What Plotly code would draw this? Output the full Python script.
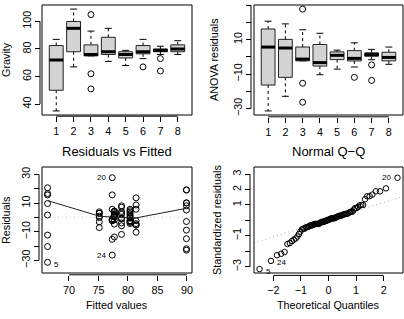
import math
from statistics import NormalDist
import numpy as np
import plotly.graph_objects as go

W, H = 404, 319
FONT = "Liberation Sans"

# ---------------- data (gravity: 8 series) ----------------
series_names = ["1", "2", "3", "4", "5", "6", "7", "8"]
g1 = [76, 82, 83, 54, 35, 46, 87, 68]
g2 = [87, 95, 98, 100, 109, 109, 100, 81, 75, 68, 67]
g3 = [105, 83, 76, 75, 51, 76, 93, 75, 62]
g4 = [95, 90, 76, 76, 87, 79, 77, 71]
g5 = [76, 78, 79, 72, 68, 75, 78]
g6 = [78, 78, 78, 86, 87, 81, 73, 67, 75, 82, 83]
g7 = [82, 79, 81, 78, 78, 79, 79, 80, 79, 82, 76, 73, 64]
g8 = [84, 86, 85, 82, 77, 76, 77, 80, 83, 81, 78, 78, 78, 80]
groups = [g1, g2, g3, g4, g5, g6, g7, g8]

# lowess smoother (at sorted group means)
smooth_y = [11.7, 0.8, 0.2, 0.0, -0.2, -0.3, -0.4, 6.3]

# labelled observations (1-based)
lab_ids = [20, 24, 5]

# tick labels
tl_y_ticks = [40, 60, 80, 100]
res_ticks = [-30, -20, -10, 0, 10, 20, 30]
res_ticktext = ["\u221230", "", "\u221210", "", "10", "", "30"]
fit_ticks = [70, 75, 80, 85, 90]
qq_x_ticks = [-2, -1, 0, 1, 2]
qq_x_text = ["\u22122", "\u22121", "0", "1", "2"]
qq_y_ticks = [-3, -2, -1, 0, 1, 2, 3]
qq_y_text = ["\u22123", "", "\u22121", "", "1", "2", "3"]

# ---------------- derived quantities ----------------
g_all = np.concatenate([np.array(g, float) for g in groups])
grp = np.concatenate([[i] * len(g) for i, g in enumerate(groups)])
means = np.array([np.mean(g) for g in groups])
fitted = means[grp]
resid = g_all - fitted
n, p = len(g_all), len(groups)
s = math.sqrt(np.sum(resid ** 2) / (n - p))
h = np.array([1.0 / len(groups[k]) for k in grp])
rstd = resid / (s * np.sqrt(1 - h))
pp = (np.arange(1, n + 1) - 0.5) / n
qn = np.array([NormalDist().inv_cdf(v) for v in pp])
order = np.argsort(rstd, kind="stable")
theo = np.empty(n)
theo[order] = qn


def fivenum(x):
    x = sorted(x)
    m = len(x)
    n4 = math.floor((m + 3) / 2) / 2
    d = [1, n4, (m + 1) / 2, m + 1 - n4, m]
    return [0.5 * (x[math.floor(v) - 1] + x[math.ceil(v) - 1]) for v in d]


def bstats(x):
    f = fivenum(x)
    iqr = f[3] - f[1]
    lo_f, hi_f = f[1] - 1.5 * iqr, f[3] + 1.5 * iqr
    inside = [v for v in x if lo_f <= v <= hi_f]
    out = [v for v in x if v < lo_f or v > hi_f]
    return min(inside), f[1], f[2], f[3], max(inside), out


def ext(a, b, f=0.04):
    d = (b - a) * f
    return [a - d, b + d]


def box_traces(data, xa, ya):
    bx, by, mx, my, wx, wy, sx, sy, ox, oy = [], [], [], [], [], [], [], [], [], []
    for i, d in enumerate(data):
        c = i + 1
        lo, q1, med, q3, hi, out = bstats(d)
        bx += [c - 0.4, c + 0.4, c + 0.4, c - 0.4, c - 0.4, None]
        by += [q1, q1, q3, q3, q1, None]
        mx += [c - 0.4, c + 0.4, None]
        my += [med, med, None]
        wx += [c, c, None, c, c, None]
        wy += [q3, hi, None, q1, lo, None]
        sx += [c - 0.2, c + 0.2, None, c - 0.2, c + 0.2, None]
        sy += [hi, hi, None, lo, lo, None]
        ox += [c] * len(out)
        oy += out
    common = dict(xaxis=xa, yaxis=ya, showlegend=False, hoverinfo="skip")
    return [
        go.Scatter(x=wx, y=wy, mode="lines", line=dict(color="black", width=1, dash="3px,3px"), **common),
        go.Scatter(x=sx, y=sy, mode="lines", line=dict(color="black", width=1), **common),
        go.Scatter(x=bx, y=by, mode="lines", fill="toself", fillcolor="#d3d3d3",
                   line=dict(color="#222222", width=1), **common),
        go.Scatter(x=mx, y=my, mode="lines", line=dict(color="black", width=3), **common),
        go.Scatter(x=ox, y=oy, mode="markers",
                   marker=dict(symbol="circle-open", size=6, color="black", line=dict(width=1)), **common),
    ]


fig = go.Figure()
for t in box_traces(groups, "x", "y"):
    fig.add_trace(t)
res_groups = [list(np.array(g, float) - np.mean(g)) for g in groups]
for t in box_traces(res_groups, "x2", "y2"):
    fig.add_trace(t)

# residuals vs fitted
fit_range = ext(fitted.min(), fitted.max())
fig.add_trace(go.Scatter(x=fit_range, y=[0, 0], mode="lines", xaxis="x3", yaxis="y3",
                         line=dict(color="#c0c0c0", width=1, dash="1px,3px"), showlegend=False, hoverinfo="skip"))
fig.add_trace(go.Scatter(x=fitted, y=resid, mode="markers", xaxis="x3", yaxis="y3",
                         marker=dict(symbol="circle-open", size=6, color="black", line=dict(width=1)),
                         showlegend=False, hoverinfo="skip"))
fig.add_trace(go.Scatter(x=np.sort(means), y=smooth_y, mode="lines", xaxis="x3", yaxis="y3",
                         line=dict(color="#222222", width=1), showlegend=False, hoverinfo="skip"))

# normal QQ
qx = ext(theo.min(), theo.max())
yq = np.percentile(rstd, [25, 75])
xq = np.array([NormalDist().inv_cdf(0.25), NormalDist().inv_cdf(0.75)])
slope = (yq[1] - yq[0]) / (xq[1] - xq[0])
icpt = yq[0] - slope * xq[0]
fig.add_trace(go.Scatter(x=qx, y=[icpt + slope * v for v in qx], mode="lines", xaxis="x4", yaxis="y4",
                         line=dict(color="#aaaaaa", width=1, dash="1px,3px"), showlegend=False, hoverinfo="skip"))
fig.add_trace(go.Scatter(x=theo, y=rstd, mode="markers", xaxis="x4", yaxis="y4",
                         marker=dict(symbol="circle-open", size=5.5, color="black", line=dict(width=1)),
                         showlegend=False, hoverinfo="skip"))

# ---------------- axes ----------------
# panel boxes in pixels: (left, top, right, bottom)
boxes = {
    1: (42, 5, 192, 115),
    2: (254, 5, 403, 115),
    3: (42, 167, 192, 273),
    4: (254, 167, 403, 273),
}
gaps = {1: 2, 2: 3, 3: 3, 4: 4}

r_lo, r_hi = resid.min(), resid.max()
e = (r_hi - r_lo) * 0.08
ranges = {
    1: ([0.18, 8.82], ext(min(g_all), max(g_all))),
    2: ([0.18, 8.82], ext(r_lo, r_hi)),
    3: (fit_range, ext(r_lo - e, r_hi + e)),
    4: (qx, ext(rstd.min(), rstd.max() + (rstd.max() - rstd.min()) * 0.075)),
}
xticks = {1: (list(range(1, 9)), series_names), 2: (list(range(1, 9)), series_names),
          3: (fit_ticks, [str(v) for v in fit_ticks]), 4: (qq_x_ticks, qq_x_text)}
yticks = {1: (tl_y_ticks, [str(v) for v in tl_y_ticks]), 2: (res_ticks, res_ticktext),
          3: (res_ticks, res_ticktext), 4: (qq_y_ticks, qq_y_text)}

tickfont = dict(family=FONT, size=10.8, color="black")
layout = dict(width=W, height=H, margin=dict(l=0, r=0, t=0, b=0), autosize=False,
              paper_bgcolor="white", plot_bgcolor="white", showlegend=False)
shapes = []
for k, (x0, y0, x1, y1) in boxes.items():
    sfx = "" if k == 1 else str(k)
    gap = gaps[k]
    xr, yr = ranges[k]
    common = dict(showgrid=False, zeroline=False, showline=False, ticks="outside", ticklen=5,
                  tickwidth=1, tickcolor="black", tickfont=tickfont, fixedrange=True)
    layout["xaxis" + sfx] = dict(domain=[x0 / W, x1 / W], range=xr, anchor="free",
                                 position=1 - (y1 + gap * 0.6) / H,
                                 tickmode="array", tickvals=xticks[k][0], ticktext=xticks[k][1], **common)
    layout["yaxis" + sfx] = dict(domain=[1 - y1 / H, 1 - y0 / H], range=yr, anchor="free",
                                 position=(x0 - gap) / W, tickangle=-90,
                                 tickmode="array", tickvals=yticks[k][0], ticktext=yticks[k][1], **common)
    xref = "x" + sfx
    yref = "y" + sfx
    shapes.append(dict(type="rect", xref=xref + " domain", yref=yref + " domain", x0=0, x1=1, y0=0, y1=1,
                       line=dict(color="black", width=1), layer="above"))
    tv = xticks[k][0]
    shapes.append(dict(type="line", xref=xref, yref="paper", x0=tv[0], x1=tv[-1],
                       y0=1 - (y1 + gap * 0.6) / H, y1=1 - (y1 + gap * 0.6) / H,
                       line=dict(color="black", width=1)))
    tv = yticks[k][0]
    shapes.append(dict(type="line", xref="paper", yref=yref, x0=(x0 - gap) / W, x1=(x0 - gap) / W,
                       y0=tv[0], y1=tv[-1], line=dict(color="black", width=1)))
layout["shapes"] = shapes

# ---------------- text ----------------
ann = []


def txt(x, y, s, size=10.8, angle=0):
    ann.append(dict(xref="paper", yref="paper", x=x / W, y=1 - y / H, text=s, showarrow=False,
                    textangle=angle, xanchor="center", yanchor="middle",
                    font=dict(family=FONT, size=size, color="black")))


txt(6, 60, "Gravity", angle=-90)
txt(214, 60, "ANOVA residuals", angle=-90)
txt(6, 220, "Residuals", angle=-90)
txt(217, 220, "Standardized residuals", angle=-90)
txt(117, 305, "Fitted values")
txt(328.5, 305, "Theoretical Quantiles")
txt(117, 151, "Residuals vs Fitted", size=13)
txt(328.5, 151, "Normal Q\u2212Q", size=13)

for i in lab_ids:
    j = i - 1
    left = fitted[j] > fitted.min() + 1
    ann.append(dict(xref="x3", yref="y3", x=fitted[j], y=resid[j], text=str(i), showarrow=False,
                    xanchor="right" if left else "left", xshift=-4 if left else 4,
                    yshift=0 if left else -2,
                    font=dict(family=FONT, size=8, color="black")))
    leftq = theo[j] > 0
    ann.append(dict(xref="x4", yref="y4", x=theo[j], y=rstd[j], text=str(i), showarrow=False,
                    xanchor="right" if leftq else "left", xshift=-4 if leftq else 4,
                    yshift=0 if leftq else -2,
                    font=dict(family=FONT, size=8, color="black")))
layout["annotations"] = ann

fig.update_layout(**layout)
fig.write_html("out.html", config={"displayModeBar": False},
               post_script="document.body.style.margin='0';document.body.style.overflow='hidden';")
